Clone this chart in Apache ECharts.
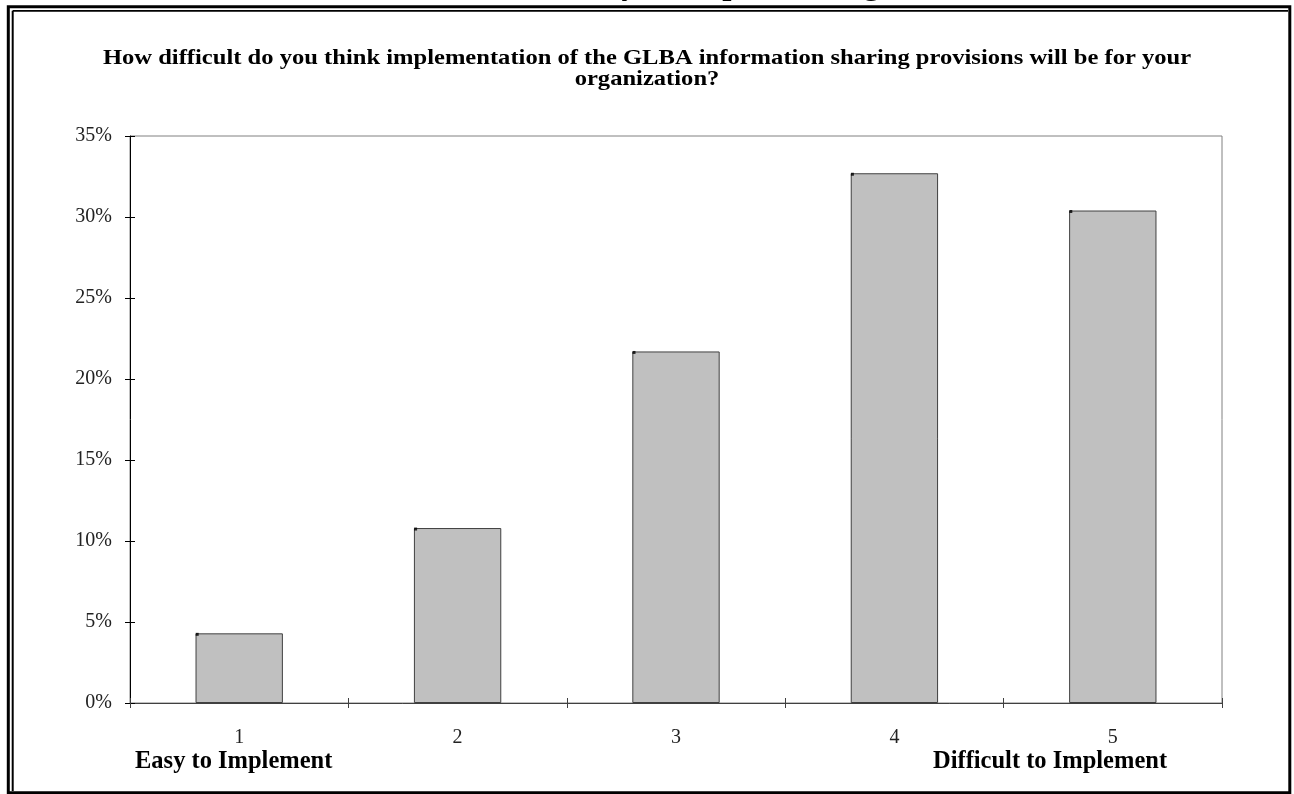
<!DOCTYPE html>
<html>
<head>
<meta charset="utf-8">
<script src="https://cdn.jsdelivr.net/npm/echarts@6/dist/echarts.min.js"></script>
<style>
  html, body { margin: 0; padding: 0; background: #fff; }
  #chart { width: 1294px; height: 794px; }
</style>
</head>
<body>
<div id="chart"></div>
<script>
// Survey responses: share of respondents per difficulty rating
const categories = ['1', '2', '3', '4', '5'];
const shares = [4.3, 10.8, 21.7, 32.7, 30.4];
const yTicks = { min: 0, max: 35, interval: 5 };
const question = 'How difficult do you think implementation of the GLBA information sharing provisions will be for your\norganization?';

const serif = "'Liberation Serif', 'Times New Roman', serif";

const chart = echarts.init(document.getElementById('chart'), null, { renderer: 'canvas' });

// axis pair shared by the outward and inward tick marks
const yBase = {
  type: 'value',
  min: yTicks.min,
  max: yTicks.max,
  interval: yTicks.interval,
  position: 'left',
  splitLine: { show: false }
};
const xBase = {
  type: 'category',
  data: categories,
  position: 'bottom',
  splitLine: { show: false }
};

chart.setOption({
  animation: false,
  backgroundColor: '#ffffff',
  grid: {
    left: 130,
    right: 72,
    top: 136,
    bottom: 91,
    show: true,
    borderColor: '#808080',
    borderWidth: 1,
    backgroundColor: 'transparent'
  },
  xAxis: [
    Object.assign({}, xBase, {
      axisLine: { lineStyle: { color: '#404040', width: 1 } },
      axisTick: { show: true, length: 5, lineStyle: { color: '#404040' } },
      axisLabel: {
        fontFamily: serif,
        fontSize: 20,
        color: '#222',
        margin: 25
      }
    }),
    Object.assign({}, xBase, {
      axisLine: { show: false },
      axisTick: { show: true, inside: true, length: 5, lineStyle: { color: '#404040' } },
      axisLabel: { show: false }
    })
  ],
  yAxis: [
    Object.assign({}, yBase, {
      axisLine: { show: true, lineStyle: { color: '#000', width: 1 } },
      axisTick: { show: true, length: 5, lineStyle: { color: '#000' } },
      axisLabel: {
        formatter: '{value}%',
        fontFamily: serif,
        fontSize: 20,
        color: '#222',
        margin: 18
      }
    }),
    Object.assign({}, yBase, {
      axisLine: { show: false },
      axisTick: { show: true, inside: true, length: 5, lineStyle: { color: '#000' } },
      axisLabel: { show: false }
    })
  ],
  series: [
    {
      type: 'bar',
      data: shares,
      barCategoryGap: '60%',
      itemStyle: {
        color: '#c0c0c0',
        borderColor: '#404040',
        borderWidth: 1
      }
    },
    {
      // dark corner mark at the top-left of each bar
      type: 'scatter',
      data: shares,
      symbol: 'rect',
      symbolSize: 3,
      symbolOffset: [-42, 1],
      itemStyle: { color: '#000' },
      silent: true,
      z: 3
    }
  ],
  graphic: [
    // page heading, mostly above the frame
    {
      type: 'text',
      left: 504,
      top: -31,
      style: {
        text: 'Difficulty of Implementing',
        fontFamily: serif,
        fontWeight: 'bold',
        fontSize: 33,
        fill: '#000'
      },
      z: 1
    },
    // survey question, set slightly wide
    {
      type: 'text',
      x: 647,
      y: 48,
      scaleX: 1.17,
      style: {
        x: 0,
        y: 0,
        text: question,
        align: 'center',
        verticalAlign: 'top',
        fontFamily: serif,
        fontWeight: 'bold',
        fontSize: 21,
        lineHeight: 21,
        fill: '#000'
      }
    },
    // outer double frame
    {
      type: 'rect',
      shape: { x: 8.3, y: 6.7, width: 1281.5, height: 786.1 },
      style: { fill: 'none', stroke: '#000', lineWidth: 3 },
      z: 10
    },
    {
      type: 'line',
      shape: { x1: 12.7, y1: 10.8, x2: 1288, y2: 10.8 },
      style: { stroke: '#000', lineWidth: 1.7 },
      z: 10
    },
    {
      type: 'line',
      shape: { x1: 12.7, y1: 10.8, x2: 12.7, y2: 791 },
      style: { stroke: '#000', lineWidth: 2 },
      z: 10
    },
    // end-point captions of the rating scale
    {
      type: 'text',
      left: 135,
      top: 749,
      style: {
        text: 'Easy to Implement',
        fontFamily: serif,
        fontWeight: 'bold',
        fontSize: 24.5,
        fill: '#000'
      }
    },
    {
      type: 'text',
      left: 933,
      top: 749,
      style: {
        text: 'Difficult to Implement',
        fontFamily: serif,
        fontWeight: 'bold',
        fontSize: 24.5,
        fill: '#000'
      }
    }
  ]
});
</script>
</body>
</html>
